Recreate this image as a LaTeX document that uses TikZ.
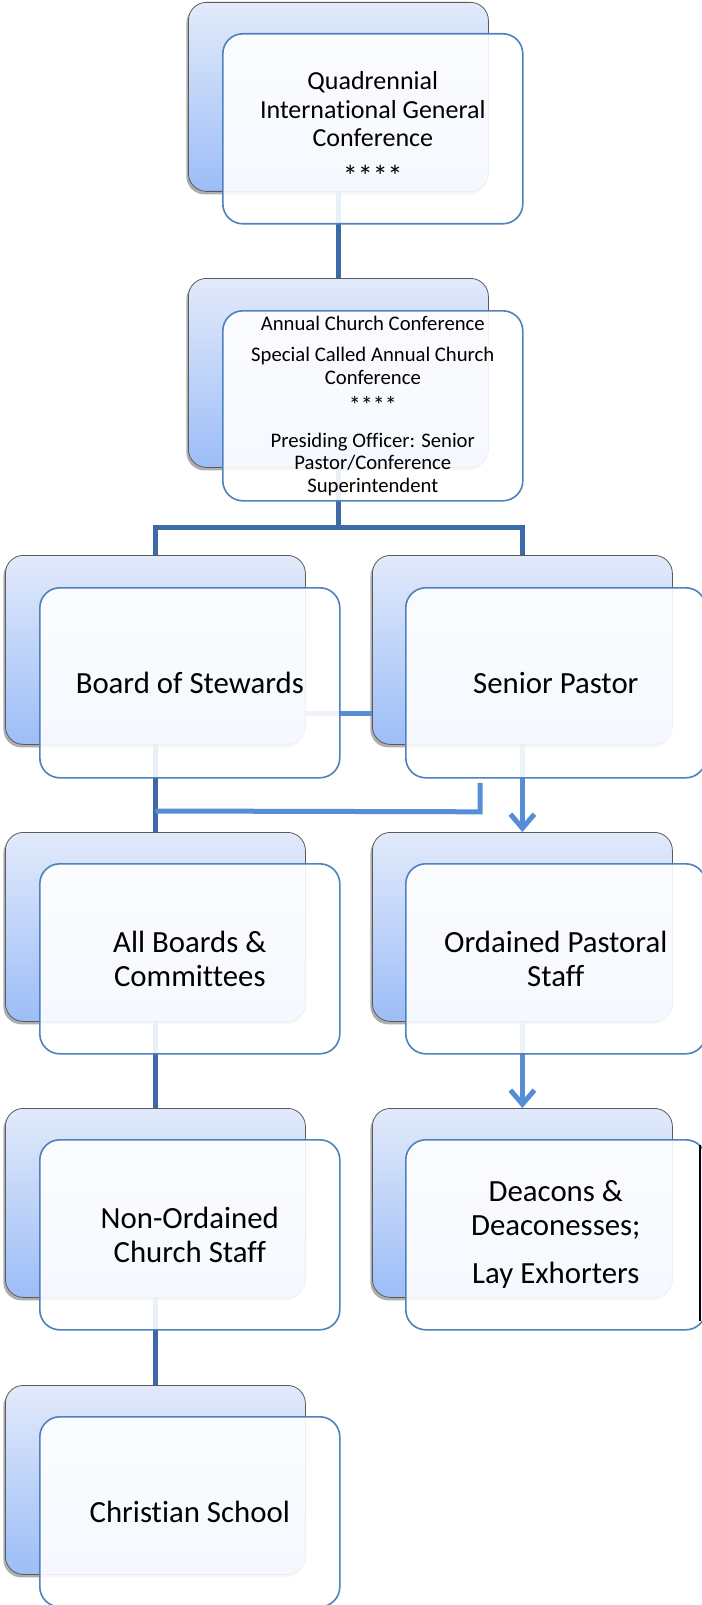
\documentclass[tikz,border=0pt]{standalone}
\usepackage{fontspec}
\setmainfont{Carlito}[RawFeature={-liga;-clig;-calt;-dlig}]
\usetikzlibrary{arrows.meta,shadows,calc}
\definecolor{darkc}{HTML}{3D6AA6}
\definecolor{lightc}{HTML}{558ED5}
\definecolor{bt}{HTML}{E2EAFB}
\definecolor{bb}{HTML}{9CBDF7}
\definecolor{edgec}{HTML}{4F81BD}
\definecolor{bord}{HTML}{5A5A5A}
\begin{document}
\begin{tikzpicture}[x=1pt,y=-1pt,
  backbox/.style={rectangle, rounded corners=18pt, minimum width=300pt, minimum height=189pt, inner sep=0pt, anchor=north west, draw=bord, line width=0.8pt, top color=bt, bottom color=bb, drop shadow={shadow xshift=-2pt, shadow yshift=-3pt, opacity=0.45, fill=black!70}},
  frontbox/.style={rectangle, rounded corners=20pt, minimum width=300pt, minimum height=190pt, inner sep=0pt, anchor=north west, draw=edgec, line width=1.6pt, fill=white, fill opacity=0.9, text opacity=1, align=center, font=\fontsize{30.8}{34}\selectfont},
  conn/.style={draw=darkc, line width=5pt},
  connl/.style={draw=lightc, line width=5pt},
  arr/.style={connl, -{Straight Barb[length=14pt,width=24pt]}}]
\useasboundingbox (0,0) rectangle (701,1605);
\fill[white] (0,0) rectangle (701,1605);
% back boxes
\node[backbox] (b1) at (188,2) {};
\node[backbox] (b2) at (188,278) {};
\node[backbox] (b3a) at (5,555) {};
\node[backbox] (b3b) at (372,555) {};
\node[backbox] (b4a) at (5,832) {};
\node[backbox] (b4b) at (372,832) {};
\node[backbox] (b5a) at (5,1108) {};
\node[backbox] (b5b) at (372,1108) {};
\node[backbox] (b6a) at (5,1385) {};
% connectors
\draw[conn] (b1.south) -- (b2.north);
\draw[conn] (b2.south) -- (b2.south |- 0,527);
\draw[conn] (b3a.north) -- (b3a.north |- 0,527) -- (b3b.north |- 0,527) -- (b3b.north);
\draw[connl] (b3a.east |- 0,713) -- (b3b.west |- 0,713);
\draw[conn] (b3a.south) -- (b4a.north);
\draw[connl] ([xshift=108pt,yshift=-38pt]b3b.south west) -- ++(0,29) -- (b4a.north |- 0,811);
\draw[arr] (b3b.south) -- (b4b.north);
\draw[conn] (b4a.south) -- (b5a.north);
\draw[arr] (b4b.south) -- (b5b.north);
\draw[conn] (b5a.south) -- (b6a.north);
% front boxes
\node[frontbox, font=\fontsize{26}{28.5}\selectfont] (f1) at (222,33) {Quadrennial\\International General\\Conference\\[11pt]{\fontsize{30}{30}\selectfont ****}};
\node[frontbox, font=\fontsize{20.7}{22.5}\selectfont] (f2) at (222,310) {Annual Church Conference\\[9pt]Special Called Annual Church\\Conference\\[7pt]{\fontsize{24}{24}\selectfont ****}\\[11pt]Presiding Officer: Senior\\Pastor/Conference\\Superintendent};
\node[frontbox] (f3a) at (39,587) {Board of Stewards};
\node[frontbox] (f3b) at (405,587) {Senior Pastor};
\node[frontbox] (f4a) at (39,863) {All Boards \&\\Committees};
\node[frontbox] (f4b) at (405,863) {Ordained Pastoral\\Staff};
\node[frontbox] (f5a) at (39,1139) {Non-Ordained\\Church Staff};
\node[frontbox] (f5b) at (405,1139) {Deacons \&\\Deaconesses;\\[14pt]Lay Exhorters};
\node[frontbox] (f6a) at (39,1416) {Christian School};
\draw[black, line width=2pt] (f5b.north west -| 700,0) ++(0,6) -- ++(0,176);
\end{tikzpicture}
\end{document}
